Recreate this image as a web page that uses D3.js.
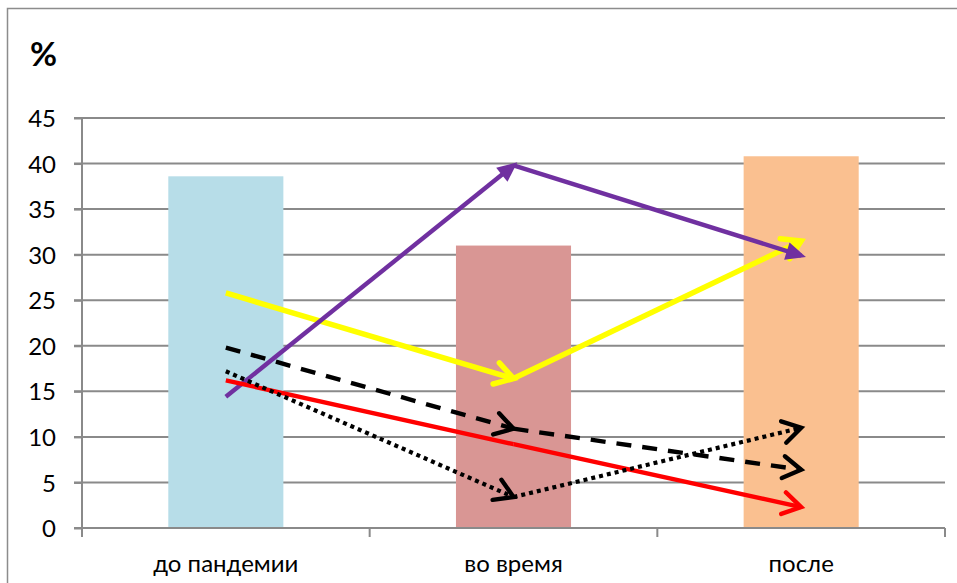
<!DOCTYPE html>
<html>
<head>
<meta charset="utf-8">
<script src="https://cdn.jsdelivr.net/npm/d3@7"></script>
<style>
  html, body { margin: 0; padding: 0; background: #fff; }
  svg { display: block; font-family: Lato, "Open Sans", sans-serif; }
</style>
</head>
<body>
<svg id="chart" width="957" height="583"></svg>
<script>
// Periods on the category axis
const categories = ["до пандемии", "во время", "после"];
// Column heights, %
const barValues = [38.6, 31.0, 40.8];
const barColors = ["#B7DDE8", "#D99694", "#FAC090"];
// Arrow series, % at each period
const purpleValues = [14.4, 39.8, 29.9];
const yellowValues = [25.8, 16.4, 31.5];
const dashedValues = [19.8, 10.9, 6.4];
const redValues    = [16.2, 9.2, 2.3];
const dottedValues = [17.2, 3.4, 11.0];
const yTicks = [0, 5, 10, 15, 20, 25, 30, 35, 40, 45];

const series = [
  { values: yellowValues, color: "#FFFF00", width: 5.5, dash: null, head: "open", arrows: [true, true] },
  { values: purpleValues, color: "#7030A0", width: 4.4, dash: null, head: "solid", arrows: [true, true] },
  { values: dashedValues, color: "#000000", width: 4.4, dash: "15,11", head: "open", arrows: [true, true] },
  { values: redValues, color: "#FF0000", width: 4.4, dash: null, head: "open", arrows: [false, true] },
  { values: dottedValues, color: "#000000", width: 4.2, dash: "4,4", head: "open", arrows: [true, true] }
];

const svg = d3.select("#chart");
const left = 82, right = 945;

const x = d3.scaleBand().domain(categories).range([left, right]).paddingInner(0).paddingOuter(0);
const y = d3.scaleLinear().domain([0, 45]).range([528, 118]);

// outer frame
svg.append("rect").attr("x", 7.5).attr("y", 8.5).attr("width", 960).attr("height", 600)
  .attr("fill", "none").attr("stroke", "#8c8c8c").attr("stroke-width", 1.5);

// gridlines
svg.append("g").selectAll("line").data(yTicks.filter(d => d > 0)).join("line")
  .attr("x1", left - 8).attr("x2", right)
  .attr("y1", d => y(d)).attr("y2", d => y(d))
  .attr("stroke", "#8a8a8a").attr("stroke-width", 2);

// bars
const barW = x.bandwidth() * 0.4;
svg.append("g").selectAll("rect").data(barValues).join("rect")
  .attr("x", (d, i) => x(categories[i]) + x.bandwidth() / 2 - barW / 2)
  .attr("width", barW)
  .attr("y", d => y(d))
  .attr("height", d => y(0) - y(d))
  .attr("fill", (d, i) => barColors[i]);

// y axis
const yAxis = svg.append("g").attr("transform", `translate(${left},0)`)
  .call(d3.axisLeft(y).tickValues(yTicks).tickSize(8).tickPadding(18));
yAxis.attr("font-size", null).attr("font-family", null);
yAxis.select(".domain").attr("stroke", "#8a8a8a").attr("stroke-width", 2)
  .attr("d", `M0,${y(45)}V${y(0) + 9}`);
yAxis.selectAll(".tick line").attr("stroke", "#8a8a8a").attr("stroke-width", 2);
yAxis.selectAll(".tick text").style("font-size", "24px").attr("fill", "#000").attr("dy", "0.36em");

// x axis
const xAxis = svg.append("g").attr("transform", `translate(0,${y(0)})`)
  .call(d3.axisBottom(x).tickSize(0));
xAxis.attr("font-size", null).attr("font-family", null);
xAxis.select(".domain").attr("stroke", "#8a8a8a").attr("stroke-width", 2)
  .attr("d", `M${left - 8},0H${right}`);
xAxis.selectAll(".tick text").style("font-size", "24px").attr("fill", "#000")
  .attr("y", 44).attr("dy", 0);
const boundaries = categories.map(c => x(c)).concat([right]);
xAxis.append("g").selectAll("line").data(boundaries).join("line")
  .attr("x1", d => d).attr("x2", d => d).attr("y1", 0).attr("y2", 9)
  .attr("stroke", "#8a8a8a").attr("stroke-width", 2);

// "%" unit label
svg.append("text").attr("x", 30).attr("y", 66).style("font-size", "33px").attr("font-weight", "bold")
  .attr("fill", "#000").text("%");

// arrowhead markers
const defs = svg.append("defs");
series.forEach((s, i) => {
  const m = defs.append("marker").attr("id", "head" + i)
    .attr("markerUnits", "userSpaceOnUse")
    .attr("viewBox", "-26 -18 36 36")
    .attr("refX", 0).attr("refY", 0)
    .attr("markerWidth", 36).attr("markerHeight", 36)
    .attr("orient", "auto");
  if (s.head === "solid") {
    m.append("path").attr("d", "M-15,-9L5,0L-15,9Z").attr("fill", s.color).attr("stroke", "none");
  } else {
    m.append("path").attr("d", "M-18,-11L0,0L-18,11").attr("fill", "none")
      .attr("stroke", s.color).attr("stroke-width", Math.max(s.width, 4.4))
      .attr("stroke-linecap", "round").attr("stroke-linejoin", "miter");
  }
});

// arrow series, one segment per period change
const cx = c => x(c) + x.bandwidth() / 2;
series.forEach((s, i) => {
  const pts = s.values.map((v, k) => [cx(categories[k]), y(v)]);
  const g = svg.append("g");
  for (let k = 0; k < pts.length - 1; k++) {
    const seg = g.append("line")
      .attr("x1", pts[k][0]).attr("y1", pts[k][1])
      .attr("x2", pts[k + 1][0]).attr("y2", pts[k + 1][1])
      .attr("stroke", s.color).attr("stroke-width", s.width)
      .attr("stroke-dasharray", s.dash);
    if (s.arrows[k]) seg.attr("marker-end", `url(#head${i})`);
  }
});
</script>
</body>
</html>
